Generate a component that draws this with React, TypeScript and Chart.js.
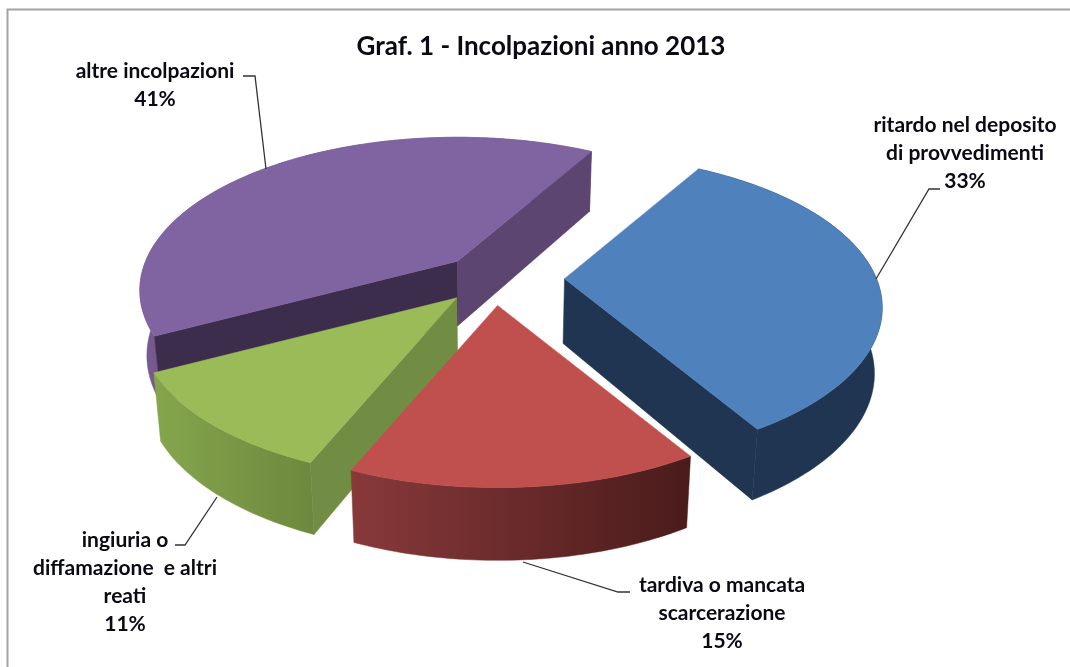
import React, { useEffect, useRef } from "react";
import { Chart, registerables } from "chart.js";

Chart.register(...registerables);

// ---- data ----
const categories = [
  "ritardo nel deposito di provvedimenti",
  "tardiva o mancata scarcerazione",
  "ingiuria o diffamazione e altri reati",
  "altre incolpazioni",
];
const values = [33, 15, 11, 41];
const labelLines = [
  ["ritardo nel deposito", "di provvedimenti"],
  ["tardiva o mancata", "scarcerazione"],
  ["ingiuria o", "diffamazione  e altri", "reati"],
  ["altre incolpazioni"],
];
const chartTitle = "Graf. 1 - Incolpazioni anno 2013";

// ---- styles ----
const explode = [71, 56, 54, 52];
const topColors = ["#4F81BD", "#C0504D", "#9BBB59", "#8064A2"];
const outerFrom = ["#1F3552", "#88393A", "#86A64D", "#75598F"];
const outerTo = ["#1F3552", "#4A1B1B", "#6D893E", "#6A5285"];
const wallStart = ["#1F3552", "#4A1B1B", "#718D43", "#3C2D4C"];
const wallEnd = ["#1F3552", "#88393A", "#718D43", "#5C4570"];
const paintOrder = [3, 0, 2, 1];

const labelCenters = [
  { x: 965, y: 125 },
  { x: 722, y: 585 },
  { x: 125, y: 540 },
  { x: 155, y: 71 },
];
const leaders = [
  [[940, 189], [929, 189], [876, 279]],
  [[630, 592], [618, 592], [523, 562]],
  [[175, 545], [185, 545], [217, 497]],
  [[243, 76], [255, 76], [266, 169]],
];
const LINE_STEP = 28;
const LABEL_FONT = "bold 21px Lato, 'Open Sans', sans-serif";
const TITLE_FONT = "bold 26px Lato, 'Open Sans', sans-serif";

// projection of the flat pie into the tilted view
const RX_RATIO = 1.281;
const RY_RATIO = 0.606;
const PERSPECTIVE = 0.19;

const pie3d = {
  id: "pie3d",
  beforeDatasetDraw(chart: any) {
    const ctx = chart.ctx;
    const arcs = chart.getDatasetMeta(0).data;

    ctx.save();
    ctx.strokeStyle = "#A3A3A3";
    ctx.lineWidth = 2;
    ctx.beginPath();
    ctx.moveTo(7.5, chart.height);
    ctx.lineTo(7.5, 9.5);
    ctx.lineTo(chart.width, 9.5);
    ctx.stroke();

    for (const i of paintOrder) {
      const arc = arcs[i];
      const rx = arc.outerRadius * RX_RATIO;
      const ry = arc.outerRadius * RY_RATIO;
      const mid = (arc.startAngle + arc.endAngle) / 2;
      const off = arc.options.offset;
      const ax = arc.x + Math.cos(mid) * off;
      const ay = arc.y + Math.sin(mid) * off * (ry / rx);
      const project = (a: number) => {
        const d = 1 - PERSPECTIVE * Math.sin(a);
        return [ax + (rx * Math.cos(a)) / d, ay + (ry * Math.sin(a)) / d];
      };
      const drop = (p: number[]) => [
        arc.x + (p[0] - arc.x) * 0.98,
        p[1] + 60 + (p[1] - 152) * 0.038,
      ];
      const rim: number[][] = [];
      const n = Math.ceil(((arc.endAngle - arc.startAngle) * 180) / Math.PI);
      for (let k = 0; k <= n; k++) {
        rim.push(project(arc.startAngle + ((arc.endAngle - arc.startAngle) * k) / n));
      }
      const apex = [ax, ay];
      const poly = (pts: number[][], fill: any) => {
        ctx.beginPath();
        pts.forEach((p, j) => (j ? ctx.lineTo(p[0], p[1]) : ctx.moveTo(p[0], p[1])));
        ctx.closePath();
        ctx.fillStyle = fill;
        ctx.strokeStyle = fill;
        ctx.lineWidth = 0.5;
        ctx.fill();
        ctx.stroke();
      };
      // outer wall
      const xs = rim.map((p) => p[0]);
      const grad = ctx.createLinearGradient(Math.min(...xs), 0, Math.max(...xs), 0);
      grad.addColorStop(0, outerFrom[i]);
      grad.addColorStop(1, outerTo[i]);
      poly([...rim, ...rim.slice().reverse().map(drop)], grad);
      // radial walls, only those that face the viewer
      if (Math.cos(arc.startAngle) < 0) {
        poly([apex, rim[0], drop(rim[0]), drop(apex)], wallStart[i]);
      }
      if (Math.cos(arc.endAngle) > 0) {
        poly([apex, rim[n], drop(rim[n]), drop(apex)], wallEnd[i]);
      }
      // top face
      poly([apex, ...rim], topColors[i]);
    }

    // leader lines
    ctx.strokeStyle = "#333333";
    ctx.lineWidth = 1.3;
    for (const pts of leaders) {
      ctx.beginPath();
      pts.forEach((p, j) => (j ? ctx.lineTo(p[0], p[1]) : ctx.moveTo(p[0], p[1])));
      ctx.stroke();
    }

    // texts
    ctx.fillStyle = "#0A0A14";
    ctx.textAlign = "center";
    ctx.textBaseline = "middle";
    ctx.font = TITLE_FONT;
    ctx.fillText(chartTitle, 541, 47);
    ctx.font = LABEL_FONT;
    labelLines.forEach((lines, i) => {
      const all = [...lines, `${values[i]}%`];
      all.forEach((line, j) => {
        ctx.fillText(line, labelCenters[i].x, labelCenters[i].y + j * LINE_STEP);
      });
    });
    ctx.restore();
    return false;
  },
};

export default function App() {
  const ref = useRef<HTMLCanvasElement | null>(null);
  useEffect(() => {
    if (!ref.current) return;
    const chart = new Chart(ref.current, {
      type: "pie",
      data: {
        labels: categories,
        datasets: [
          {
            data: values,
            backgroundColor: topColors,
            offset: explode,
            borderWidth: 0,
          },
        ],
      },
      options: {
        responsive: false,
        animation: false,
        rotation: 30,
        layout: { padding: { left: 0, right: 83, top: 0, bottom: 109 } },
        plugins: { legend: { display: false }, tooltip: { enabled: false } },
      },
      plugins: [pie3d],
    } as any);
    return () => chart.destroy();
  }, []);
  return (
    <div style={{ position: "fixed", left: 0, top: 0, width: 1070, height: 667, background: "#fff" }}>
      <canvas ref={ref} width={1070} height={667} style={{ display: "block" }} />
    </div>
  );
}
